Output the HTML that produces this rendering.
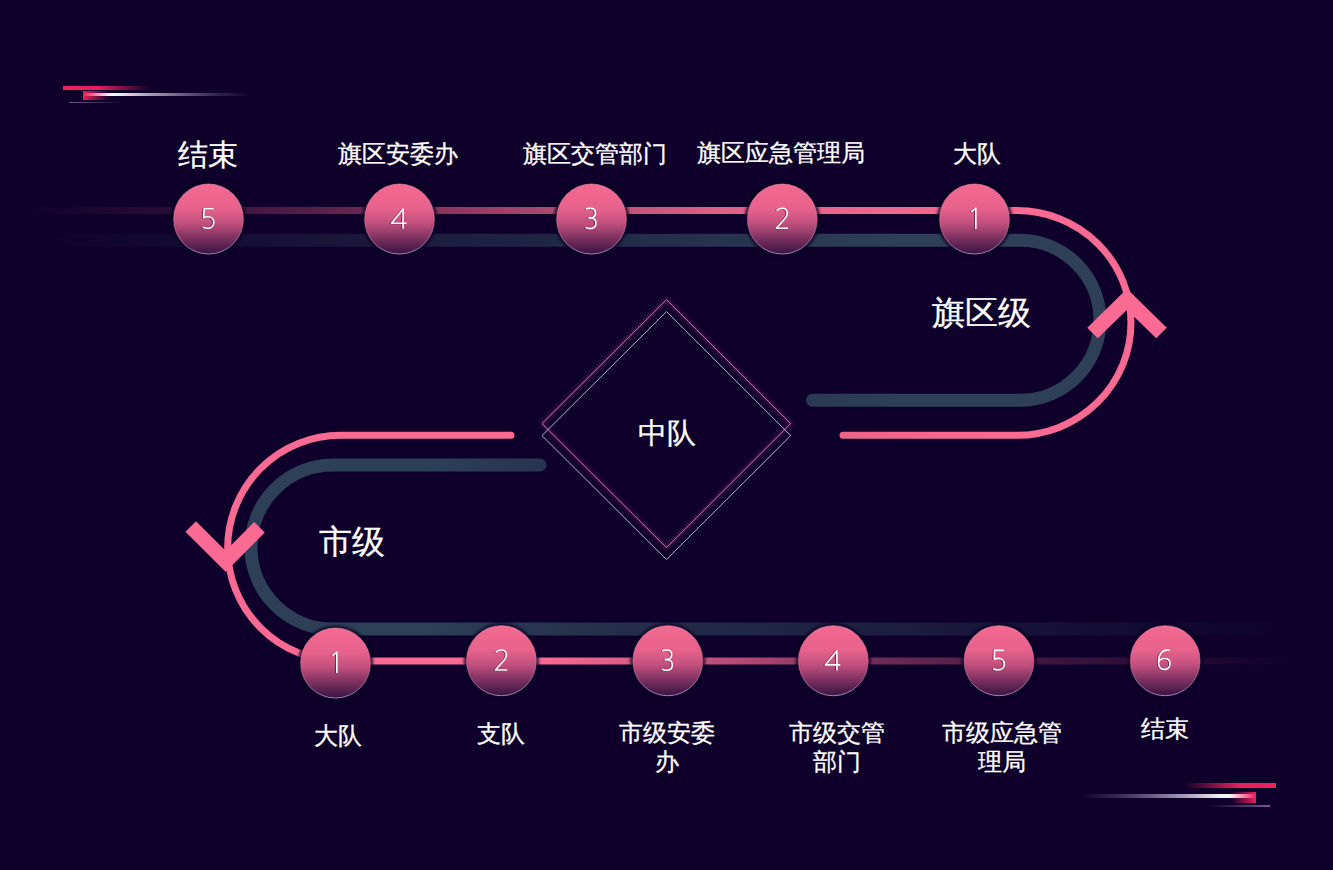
<!DOCTYPE html>
<html><head><meta charset="utf-8">
<style>
html,body{margin:0;padding:0;}
body{width:1333px;height:870px;background:#0e002a;position:relative;overflow:hidden;font-family:"Liberation Sans",sans-serif;color:#fff;}
svg{position:absolute;left:0;top:0;}
.t{position:absolute;white-space:nowrap;text-align:center;line-height:29px;-webkit-text-stroke:0.3px #fff;}
.s24{font-size:24px;}
.n{position:absolute;width:72px;height:30px;line-height:30px;text-align:center;font-size:28px;color:#fff;}
</style></head><body>
<svg width="1333" height="870" viewBox="0 0 1333 870">
<defs>
  <linearGradient id="pinkL" gradientUnits="userSpaceOnUse" x1="20" y1="0" x2="1000" y2="0">
    <stop offset="0" stop-color="#fa6a92" stop-opacity="0"/>
    <stop offset="0.15" stop-color="#fa6a92" stop-opacity="0.12"/>
    <stop offset="0.3" stop-color="#fa6a92" stop-opacity="0.3"/>
    <stop offset="0.5" stop-color="#fa6a92" stop-opacity="0.62"/>
    <stop offset="0.72" stop-color="#fa6a92" stop-opacity="0.9"/>
    <stop offset="1" stop-color="#fa6a92" stop-opacity="1"/>
  </linearGradient>
  <linearGradient id="blueL" gradientUnits="userSpaceOnUse" x1="40" y1="0" x2="900" y2="0">
    <stop offset="0" stop-color="#2d4058" stop-opacity="0"/>
    <stop offset="1" stop-color="#2d4058" stop-opacity="1"/>
  </linearGradient>
  <linearGradient id="pinkR" gradientUnits="userSpaceOnUse" x1="540" y1="0" x2="1300" y2="0">
    <stop offset="0" stop-color="#fa6a92" stop-opacity="1"/>
    <stop offset="0.25" stop-color="#fa6a92" stop-opacity="0.72"/>
    <stop offset="0.47" stop-color="#fa6a92" stop-opacity="0.38"/>
    <stop offset="0.7" stop-color="#fa6a92" stop-opacity="0.18"/>
    <stop offset="0.9" stop-color="#fa6a92" stop-opacity="0.06"/>
    <stop offset="1" stop-color="#fa6a92" stop-opacity="0"/>
  </linearGradient>
  <linearGradient id="blueR" gradientUnits="userSpaceOnUse" x1="420" y1="0" x2="1300" y2="0">
    <stop offset="0" stop-color="#2d4058" stop-opacity="1"/>
    <stop offset="0.2" stop-color="#2d4058" stop-opacity="0.75"/>
    <stop offset="0.55" stop-color="#2d4058" stop-opacity="0.45"/>
    <stop offset="0.8" stop-color="#2d4058" stop-opacity="0.18"/>
    <stop offset="1" stop-color="#2d4058" stop-opacity="0"/>
  </linearGradient>
  <linearGradient id="ball" x1="0" y1="0" x2="0" y2="1">
    <stop offset="0" stop-color="#f46991"/>
    <stop offset="0.35" stop-color="#e6628c"/>
    <stop offset="0.55" stop-color="#c4517e"/>
    <stop offset="0.72" stop-color="#8e3868"/>
    <stop offset="0.88" stop-color="#5c2352"/>
    <stop offset="1" stop-color="#3a1440"/>
  </linearGradient>
  <linearGradient id="ballStroke" x1="0" y1="0" x2="0" y2="1">
    <stop offset="0" stop-color="#ffb0c8" stop-opacity="0.5"/>
    <stop offset="0.5" stop-color="#e890b8" stop-opacity="0.3"/>
    <stop offset="1" stop-color="#b08ad0" stop-opacity="0.9"/>
  </linearGradient>
  <filter id="halo" x="-30%" y="-30%" width="160%" height="160%"><feGaussianBlur stdDeviation="1.6"/></filter>
</defs>

<!-- top-left decoration -->
<linearGradient id="d1" gradientUnits="userSpaceOnUse" x1="63" y1="0" x2="150" y2="0">
  <stop offset="0" stop-color="#ef1f5e"/><stop offset="0.4" stop-color="#e71f5c"/><stop offset="1" stop-color="#e71f5c" stop-opacity="0"/>
</linearGradient>
<rect x="63" y="86" width="90" height="4" fill="url(#d1)"/>
<linearGradient id="d2" gradientUnits="userSpaceOnUse" x1="83" y1="0" x2="250" y2="0">
  <stop offset="0" stop-color="#ffffff"/><stop offset="0.2" stop-color="#ffffff" stop-opacity="0.95"/><stop offset="0.5" stop-color="#d8d0ea" stop-opacity="0.6"/><stop offset="0.8" stop-color="#a898c8" stop-opacity="0.25"/><stop offset="1" stop-color="#a898c8" stop-opacity="0"/>
</linearGradient>
<rect x="83" y="93" width="167" height="3" fill="url(#d2)"/>
<linearGradient id="d3" gradientUnits="userSpaceOnUse" x1="83" y1="0" x2="110" y2="0">
  <stop offset="0" stop-color="#ee1d5d"/><stop offset="1" stop-color="#ee1d5d" stop-opacity="0"/>
</linearGradient>
<rect x="83" y="91" width="27" height="9" fill="url(#d3)"/>
<linearGradient id="d4" gradientUnits="userSpaceOnUse" x1="69" y1="0" x2="125" y2="0">
  <stop offset="0" stop-color="#7a5a90"/><stop offset="1" stop-color="#7a5a90" stop-opacity="0"/>
</linearGradient>
<rect x="69" y="102" width="56" height="1" fill="url(#d4)"/>

<!-- bottom-right decoration -->
<linearGradient id="e1" gradientUnits="userSpaceOnUse" x1="1276" y1="0" x2="1184" y2="0">
  <stop offset="0" stop-color="#ef1f5e"/><stop offset="0.4" stop-color="#e71f5c"/><stop offset="1" stop-color="#e71f5c" stop-opacity="0"/>
</linearGradient>
<rect x="1184" y="783" width="92" height="5" fill="url(#e1)"/>
<linearGradient id="e2" gradientUnits="userSpaceOnUse" x1="1256" y1="0" x2="1080" y2="0">
  <stop offset="0" stop-color="#ffffff"/><stop offset="0.2" stop-color="#ffffff" stop-opacity="0.95"/><stop offset="0.5" stop-color="#d8d0ea" stop-opacity="0.6"/><stop offset="0.8" stop-color="#a898c8" stop-opacity="0.25"/><stop offset="1" stop-color="#a898c8" stop-opacity="0"/>
</linearGradient>
<rect x="1080" y="794" width="176" height="4" fill="url(#e2)"/>
<linearGradient id="e3" gradientUnits="userSpaceOnUse" x1="1256" y1="0" x2="1230" y2="0">
  <stop offset="0" stop-color="#ee1d5d"/><stop offset="1" stop-color="#ee1d5d" stop-opacity="0"/>
</linearGradient>
<rect x="1230" y="792" width="26" height="11" fill="url(#e3)"/>
<linearGradient id="e4" gradientUnits="userSpaceOnUse" x1="1270" y1="0" x2="1208" y2="0">
  <stop offset="0" stop-color="#7a5a90"/><stop offset="1" stop-color="#7a5a90" stop-opacity="0"/>
</linearGradient>
<rect x="1208" y="805" width="62" height="2" fill="url(#e4)"/>

<!-- top track -->
<path d="M 20 240.3 H 1020 A 80 80 0 0 1 1020 400.3 H 812.5" fill="none" stroke="url(#blueL)" stroke-width="13" stroke-linecap="round"/>
<path d="M 20 210.5 H 1017 A 114 112.4 0 0 1 1017 435.3 H 843" fill="none" stroke="url(#pinkL)" stroke-width="7" stroke-linecap="round"/>
<!-- bottom track -->
<path d="M 540 465 H 333 A 82 82 0 0 0 333 629 H 1310" fill="none" stroke="url(#blueR)" stroke-width="13" stroke-linecap="round"/>
<path d="M 511 435.3 H 340.5 A 112 112 0 0 0 340.5 661 H 1310" fill="none" stroke="url(#pinkR)" stroke-width="7" stroke-linecap="round"/>

<!-- arrows -->
<path d="M 1092.5 333 L 1127 299.3 L 1161.5 333" fill="none" stroke="#fb6a92" stroke-width="15"/>
<path d="M 190.7 526.5 L 225.6 561.2 L 259.5 527.3" fill="none" stroke="#fb6a92" stroke-width="15"/>

<!-- diamonds -->
<filter id="dglow" x="-10%" y="-10%" width="120%" height="120%"><feGaussianBlur stdDeviation="2"/></filter>
<path d="M 666.5 299.6 L 790.7 423.6 L 666.5 547.6 L 542 423.6 Z" fill="none" stroke="#a02a80" stroke-width="3" opacity="0.45" filter="url(#dglow)"/>
<path d="M 666.5 299.6 L 790.7 423.6 L 666.5 547.6 L 542 423.6 Z" fill="none" stroke="#d488c4" stroke-width="0.9"/>
<path d="M 666.5 311.6 L 790.7 435.6 L 666.5 559.6 L 542 435.6 Z" fill="none" stroke="#cbc0ea" stroke-width="0.9"/>

<g fill="#0a0020" opacity="0.85" filter="url(#halo)"><circle cx="208.5" cy="219" r="37.5"/><circle cx="399.5" cy="219" r="37.5"/><circle cx="591.5" cy="219" r="37.5"/><circle cx="782.3" cy="219" r="37.5"/><circle cx="974.5" cy="219" r="37.5"/><circle cx="335.5" cy="663" r="37.5"/><circle cx="501.4" cy="660.7" r="37.5"/><circle cx="667.8" cy="660.7" r="37.5"/><circle cx="833.3" cy="660.7" r="37.5"/><circle cx="999" cy="660.7" r="37.5"/><circle cx="1165.2" cy="660.7" r="37.5"/></g>
<!-- balls top -->
<g fill="url(#ball)" stroke="url(#ballStroke)" stroke-width="1">
<circle cx="208.5" cy="219" r="35"/>
<circle cx="399.5" cy="219" r="35"/>
<circle cx="591.5" cy="219" r="35"/>
<circle cx="782.3" cy="219" r="35"/>
<circle cx="974.5" cy="219" r="35"/>
<circle cx="335.5" cy="663" r="35"/>
<circle cx="501.4" cy="660.7" r="35"/>
<circle cx="667.8" cy="660.7" r="35"/>
<circle cx="833.3" cy="660.7" r="35"/>
<circle cx="999" cy="660.7" r="35"/>
<circle cx="1165.2" cy="660.7" r="35"/>
</g>
<!-- digits -->
<g fill="none" stroke="#1a0625" stroke-width="1.3" stroke-linejoin="round" opacity="0.55">
<path transform="translate(207.4 208.3)" d="M 5 0.7 H -4.4 L -4.8 9.6 C -3.5 9 -2.1 8.7 -0.6 8.7 C 3 8.7 5.3 11 5.3 14.3 C 5.3 17.7 2.9 20.3 -1.1 20.3 C -3 20.3 -4.6 19.8 -5.8 19.1"/>
<path transform="translate(398.4 208.3)" d="M 3.6 20.8 V 1 L -8 15.2 H 7"/>
<path transform="translate(590.4 208.3)" d="M -5.6 1.4 C -4.5 0.6 -3 0.3 -1.3 0.3 C 2 0.3 3.9 2.2 3.9 4.9 C 3.9 8 1.6 9.9 -2.1 9.9 H -3.2 M -2.1 9.9 C 2.2 9.9 4.5 12.2 4.5 15.1 C 4.5 18.4 2.1 20.6 -1.6 20.6 C -3.4 20.6 -4.9 20.1 -6 19.4"/>
<path transform="translate(781.1999999999999 208.3)" d="M -5.6 2.6 C -4.2 1 -2.3 0.3 -0.4 0.3 C 3 0.3 5 2.4 5 5.2 C 5 8 3.3 10 0.3 13.2 L -6 20.3 H 5.8"/>
<path transform="translate(973.4 208.3)" d="M -3.2 3.6 L 1.3 0.3 V 21"/>
<path transform="translate(334.4 652.3)" d="M -3.2 3.6 L 1.3 0.3 V 21"/>
<path transform="translate(500.29999999999995 650.0)" d="M -5.6 2.6 C -4.2 1 -2.3 0.3 -0.4 0.3 C 3 0.3 5 2.4 5 5.2 C 5 8 3.3 10 0.3 13.2 L -6 20.3 H 5.8"/>
<path transform="translate(666.6999999999999 650.0)" d="M -5.6 1.4 C -4.5 0.6 -3 0.3 -1.3 0.3 C 2 0.3 3.9 2.2 3.9 4.9 C 3.9 8 1.6 9.9 -2.1 9.9 H -3.2 M -2.1 9.9 C 2.2 9.9 4.5 12.2 4.5 15.1 C 4.5 18.4 2.1 20.6 -1.6 20.6 C -3.4 20.6 -4.9 20.1 -6 19.4"/>
<path transform="translate(832.1999999999999 650.0)" d="M 3.6 20.8 V 1 L -8 15.2 H 7"/>
<path transform="translate(997.9 650.0)" d="M 5 0.7 H -4.4 L -4.8 9.6 C -3.5 9 -2.1 8.7 -0.6 8.7 C 3 8.7 5.3 11 5.3 14.3 C 5.3 17.7 2.9 20.3 -1.1 20.3 C -3 20.3 -4.6 19.8 -5.8 19.1"/>
<path transform="translate(1164.1000000000001 650.0)" d="M 4.6 0.9 C 3.9 0.5 3 0.4 2 0.4 C -3 0.4 -6.7 4.6 -6.7 12 C -6.7 17 -4.5 19.8 -1 19.8 C 2.5 19.8 4.8 17.3 4.8 13.9 C 4.8 10.7 2.6 8.8 -0.8 8.8 C -3.8 8.8 -6 10.5 -6.7 12.8"/>
</g>

<g fill="none" stroke="#ffffff" stroke-width="1.6" stroke-linecap="butt" stroke-linejoin="round">
<path transform="translate(208.5 208)" d="M 5 0.7 H -4.4 L -4.8 9.6 C -3.5 9 -2.1 8.7 -0.6 8.7 C 3 8.7 5.3 11 5.3 14.3 C 5.3 17.7 2.9 20.3 -1.1 20.3 C -3 20.3 -4.6 19.8 -5.8 19.1"/>
<path transform="translate(399.5 208)" d="M 3.6 20.8 V 1 L -8 15.2 H 7"/>
<path transform="translate(591.5 208)" d="M -5.6 1.4 C -4.5 0.6 -3 0.3 -1.3 0.3 C 2 0.3 3.9 2.2 3.9 4.9 C 3.9 8 1.6 9.9 -2.1 9.9 H -3.2 M -2.1 9.9 C 2.2 9.9 4.5 12.2 4.5 15.1 C 4.5 18.4 2.1 20.6 -1.6 20.6 C -3.4 20.6 -4.9 20.1 -6 19.4"/>
<path transform="translate(782.3 208)" d="M -5.6 2.6 C -4.2 1 -2.3 0.3 -0.4 0.3 C 3 0.3 5 2.4 5 5.2 C 5 8 3.3 10 0.3 13.2 L -6 20.3 H 5.8"/>
<path transform="translate(974.5 208)" d="M -3.2 3.6 L 1.3 0.3 V 21"/>
<path transform="translate(335.5 652)" d="M -3.2 3.6 L 1.3 0.3 V 21"/>
<path transform="translate(501.4 649.7)" d="M -5.6 2.6 C -4.2 1 -2.3 0.3 -0.4 0.3 C 3 0.3 5 2.4 5 5.2 C 5 8 3.3 10 0.3 13.2 L -6 20.3 H 5.8"/>
<path transform="translate(667.8 649.7)" d="M -5.6 1.4 C -4.5 0.6 -3 0.3 -1.3 0.3 C 2 0.3 3.9 2.2 3.9 4.9 C 3.9 8 1.6 9.9 -2.1 9.9 H -3.2 M -2.1 9.9 C 2.2 9.9 4.5 12.2 4.5 15.1 C 4.5 18.4 2.1 20.6 -1.6 20.6 C -3.4 20.6 -4.9 20.1 -6 19.4"/>
<path transform="translate(833.3 649.7)" d="M 3.6 20.8 V 1 L -8 15.2 H 7"/>
<path transform="translate(999 649.7)" d="M 5 0.7 H -4.4 L -4.8 9.6 C -3.5 9 -2.1 8.7 -0.6 8.7 C 3 8.7 5.3 11 5.3 14.3 C 5.3 17.7 2.9 20.3 -1.1 20.3 C -3 20.3 -4.6 19.8 -5.8 19.1"/>
<path transform="translate(1165.2 649.7)" d="M 4.6 0.9 C 3.9 0.5 3 0.4 2 0.4 C -3 0.4 -6.7 4.6 -6.7 12 C -6.7 17 -4.5 19.8 -1 19.8 C 2.5 19.8 4.8 17.3 4.8 13.9 C 4.8 10.7 2.6 8.8 -0.8 8.8 C -3.8 8.8 -6 10.5 -6.7 12.8"/>
</g>
</svg>

<!-- labels -->
<div class="t" style="left:158px;top:140px;width:100px;font-size:30px;line-height:30px">结束</div>
<div class="t s24" style="left:298.3px;top:139px;width:200px">旗区安委办</div>
<div class="t s24" style="left:495px;top:139px;width:200px">旗区交管部门</div>
<div class="t s24" style="left:681px;top:138px;width:200px">旗区应急管理局</div>
<div class="t s24" style="left:877px;top:139px;width:200px">大队</div>
<div class="t" style="left:881px;top:296px;width:200px;font-size:33px;line-height:33px">旗区级</div>
<div class="t" style="left:567px;top:419px;width:200px;font-size:29px;line-height:29px">中队</div>
<div class="t" style="left:252px;top:525px;width:200px;font-size:33px;line-height:33px">市级</div>
<div class="t s24" style="left:238px;top:721px;width:200px">大队</div>
<div class="t s24" style="left:401px;top:719px;width:200px">支队</div>
<div class="t s24" style="left:566.5px;top:718px;width:200px">市级安委<br>办</div>
<div class="t s24" style="left:737px;top:718px;width:200px">市级交管<br>部门</div>
<div class="t s24" style="left:902px;top:718px;width:200px">市级应急管<br>理局</div>
<div class="t s24" style="left:1065px;top:714px;width:200px">结束</div>
</body></html>
